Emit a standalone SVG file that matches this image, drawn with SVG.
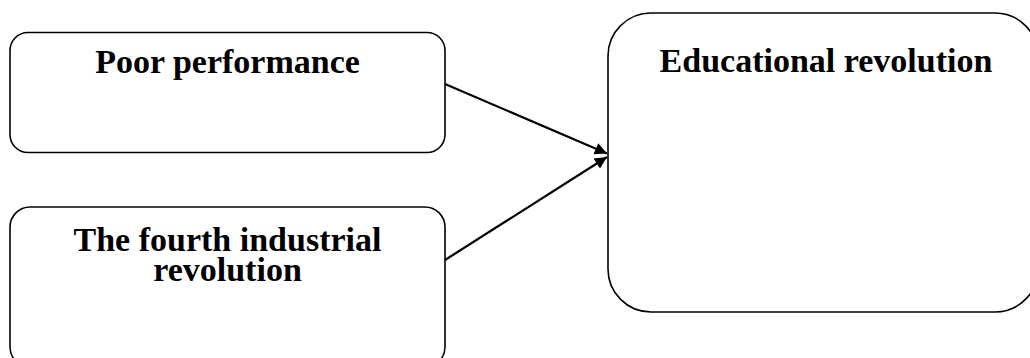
<svg xmlns="http://www.w3.org/2000/svg" width="1030" height="358" viewBox="0 0 1030 358">
<style>
.box{fill:#fff;stroke:#000;stroke-width:1.6}
.t{font-family:"Liberation Serif","Times New Roman",serif;font-weight:bold;font-size:34px;fill:#000;text-anchor:middle}
.c{stroke:#000;stroke-width:2.2;fill:none}
</style>
<defs>
<marker id="ah" viewBox="0 0 10 10" refX="10" refY="5" markerWidth="6.5" markerHeight="5.5" markerUnits="strokeWidth" orient="auto">
<path d="M0,0 L10,5 L0,10 z" fill="#000"/>
</marker>
</defs>
<rect width="1030" height="358" fill="#fff"/>
<g id="poor">
<rect class="box" x="10" y="32.5" width="435" height="120" rx="18" ry="18"/>
<text class="t" x="227.5" y="73">Poor performance</text>
</g>
<g id="fourth">
<rect class="box" x="10" y="207" width="435" height="160" rx="20" ry="20"/>
<text class="t" x="227.5" y="251">The fourth industrial</text>
<text class="t" x="227.5" y="281">revolution</text>
</g>
<g id="edu">
<rect class="box" x="608" y="13" width="430" height="299" rx="43" ry="43"/>
<text class="t" x="826" y="72">Educational revolution</text>
</g>
<g id="connectors">
<line class="c" x1="445" y1="84" x2="607" y2="153.5" marker-end="url(#ah)"/>
<line class="c" x1="445" y1="260" x2="607" y2="157" marker-end="url(#ah)"/>
</g>
</svg>
